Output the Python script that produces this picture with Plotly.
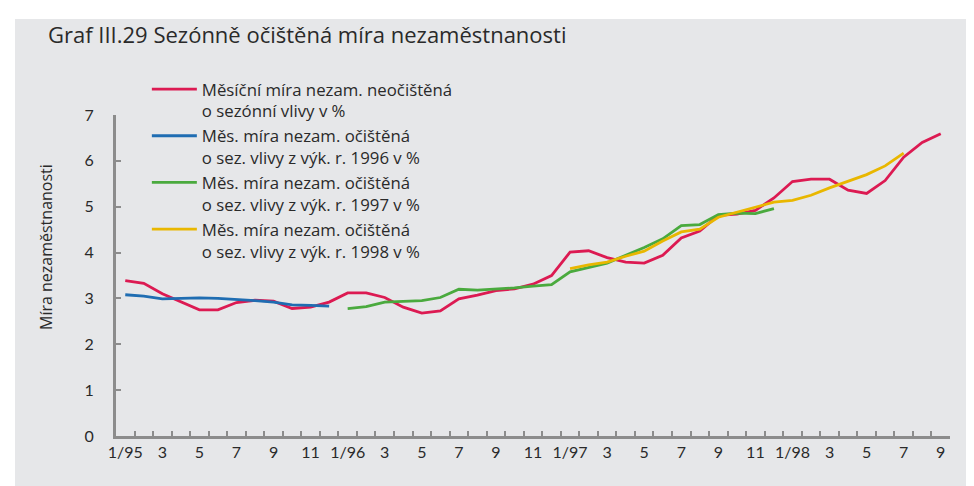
import plotly.graph_objects as go

# ---- data ----
years = ["95", "96", "97", "98"]
months = [f"{m}/{y}" for y in years for m in range(1, 13)][:45]  # 1/95 .. 9/98
tick_text = [(f"{m}/{y}" if m == 1 else (str(m) if m % 2 == 1 else ""))
             for y in years for m in range(1, 13)][:45]

red_vals = [3.39, 3.33, 3.10, 2.92, 2.75, 2.75, 2.91, 2.96, 2.94, 2.78, 2.81, 2.92,
            3.12, 3.12, 3.02, 2.81, 2.68, 2.73, 2.99, 3.07, 3.17, 3.21, 3.31, 3.50,
            4.01, 4.04, 3.89, 3.79, 3.77, 3.94, 4.32, 4.47, 4.81, 4.84, 4.92, 5.19,
            5.55, 5.60, 5.60, 5.36, 5.29, 5.57, 6.08, 6.40, 6.59]
blue_vals = [3.08, 3.05, 2.99, 3.00, 3.01, 3.00, 2.98, 2.95, 2.92, 2.86, 2.85, 2.83]
green_vals = [2.78, 2.82, 2.92, 2.94, 2.95, 3.02, 3.20, 3.18, 3.20, 3.23, 3.27, 3.30,
              3.58, 3.68, 3.77, 3.94, 4.11, 4.30, 4.59, 4.61, 4.83, 4.86, 4.85, 4.96]
yellow_vals = [3.65, 3.73, 3.79, 3.92, 4.03, 4.25, 4.45, 4.51, 4.77, 4.88, 4.99, 5.10,
               5.14, 5.25, 5.41, 5.55, 5.70, 5.89, 6.17]

names = [
    "Měsíční míra nezam. neočištěná<br>o sezónní vlivy v %",
    "Měs. míra nezam. očištěná<br>o sez. vlivy z výk. r. 1996 v %",
    "Měs. míra nezam. očištěná<br>o sez. vlivy z výk. r. 1997 v %",
    "Měs. míra nezam. očištěná<br>o sez. vlivy z výk. r. 1998 v %",
]
colors = ["#dc1a52", "#1f6db2", "#4aaa3e", "#e9b700"]

FONT = "Open Sans"
TICKFONT = "Lato"
TXT = "#2a2a2a"
AX = "#8c8c8c"
BG = "#e6e7e9"

fig = go.Figure()
series = [
    (months, red_vals),
    (months[0:12], blue_vals),
    (months[12:36], green_vals),
    (months[24:43], yellow_vals),
]
for (xs, ys), nm, c in zip(series, names, colors):
    fig.add_trace(go.Scatter(x=xs, y=ys, mode="lines", name=nm,
                             line=dict(color=c, width=2.8)))

fig.update_layout(
    width=974, height=486,
    margin=dict(l=108, r=32, t=107, b=58),
    paper_bgcolor="white",
    plot_bgcolor=BG,
    font=dict(family=FONT, size=16, color=TXT),
    showlegend=True,
    legend=dict(x=0.037, y=1.135, xanchor="left", yanchor="top",
                bgcolor="rgba(0,0,0,0)", valign="top", itemwidth=45,
                font=dict(family=FONT, size=16.8, color=TXT), tracegroupgap=0),
    shapes=[dict(type="rect", xref="paper", yref="paper",
                 x0=(7 - 108) / 834, x1=(980 - 108) / 834,
                 y0=(428 - 490) / 321, y1=(428 - 11) / 321,
                 fillcolor=BG, line=dict(width=0), layer="below")],
    annotations=[
        dict(text="Graf III.29 Sezónně očištěná míra nezaměstnanosti",
             xref="paper", yref="paper", x=(38 - 108) / 834, y=(428 - 26) / 321,
             xanchor="left", yanchor="middle", showarrow=False,
             font=dict(family=FONT, size=22, color=TXT)),
        dict(text="Míra nezaměstnanosti", textangle=-90,
             xref="paper", yref="paper", x=(38 - 108) / 834, y=(428 - 239) / 321,
             xanchor="center", yanchor="middle", showarrow=False,
             font=dict(family=FONT, size=16, color=TXT)),
    ],
)

fig.update_xaxes(
    type="category", categoryorder="array", categoryarray=months,
    tickmode="array", tickvals=months, ticktext=tick_text,
    tickson="boundaries", ticks="inside", ticklen=5, tickwidth=2, tickcolor=AX,
    showline=True, linecolor=AX, linewidth=3, showgrid=False, zeroline=False,
    range=[-0.5, 44.5], tickangle=0,
    tickfont=dict(family=TICKFONT, size=16, color=TXT),
)
fig.update_yaxes(
    range=[0, 7], tickvals=[0, 1, 2, 3, 4, 5, 6, 7],
    ticks="inside", ticklen=5, tickwidth=2, tickcolor=AX,
    showline=True, linecolor=AX, linewidth=3, showgrid=False, zeroline=False,
    ticklabelstandoff=16,
    tickfont=dict(family=TICKFONT, size=16, color=TXT),
)

fig.write_html("out.html")
